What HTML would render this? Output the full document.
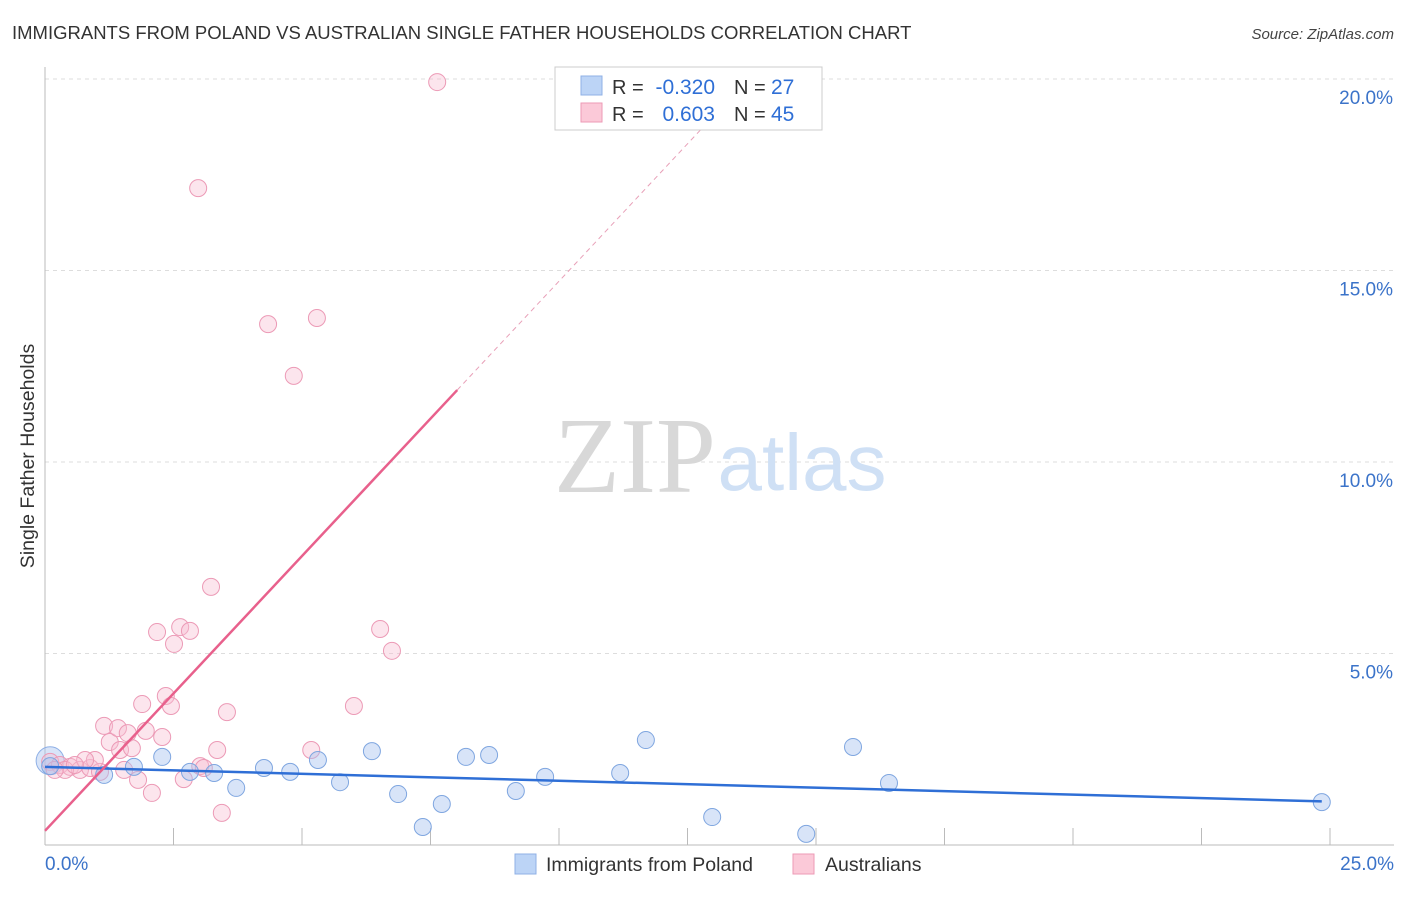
<!DOCTYPE html>
<html><head><meta charset="utf-8"><style>
body{margin:0;background:#fff;font-family:"Liberation Sans",sans-serif}
</style></head><body>
<svg id="c" width="1406" height="892" xmlns="http://www.w3.org/2000/svg" font-family="Liberation Sans, sans-serif"></svg>
<script>
const blueX=[0.1,1.15,1.73,2.28,2.82,3.29,3.72,4.26,4.77,5.31,5.74,6.36,6.87,7.35,7.72,8.19,8.64,9.16,9.73,11.19,11.69,12.98,14.81,15.72,16.42,24.84];
const blueY=[2.06,1.83,2.04,2.30,1.91,1.88,1.49,2.01,1.91,2.22,1.64,2.45,1.33,0.47,1.07,2.30,2.35,1.41,1.78,1.88,2.74,0.73,0.29,2.56,1.62,1.12];
const pinkX=[0.1,0.29,0.49,0.68,0.88,1.07,0.97,1.15,1.26,1.42,1.46,1.54,1.61,1.69,1.81,1.89,1.96,2.08,2.18,2.28,2.35,2.45,2.51,2.63,2.70,2.82,3.02,3.09,3.23,3.35,3.44,3.54,2.98,4.34,4.84,5.29,5.18,6.01,6.52,6.75,7.63,0.78,0.39,0.58,0.19];
const pinkY=[2.17,2.09,2.04,1.96,2.01,1.91,2.22,3.11,2.69,3.05,2.48,1.96,2.92,2.53,1.70,3.68,2.98,1.36,5.56,2.82,3.89,3.63,5.25,5.69,1.72,5.59,2.06,2.01,6.74,2.48,0.84,3.47,17.15,13.60,12.25,13.76,2.48,3.63,5.64,5.07,19.92,2.22,1.96,2.09,1.96];
const yTicks=[5,10,15,20];
const xTickCount=10;
const blueTrend=[2.04,1.14];
const pinkTrend=[0.37,1.435];
const X=v=>45+v*51.4, Y=v=>845-v*38.3;
const s=document.getElementById('c');const NS='http://www.w3.org/2000/svg';
function el(t,a,txt){const e=document.createElementNS(NS,t);for(const k in a)e.setAttribute(k,a[k]);if(txt!=null)e.textContent=txt;s.appendChild(e);return e;}
let e;
e=el('text',{x:12,y:39,'font-size':18.5,fill:'#333'},'IMMIGRANTS FROM POLAND VS AUSTRALIAN SINGLE FATHER HOUSEHOLDS CORRELATION CHART');

e=el('text',{x:1394,y:39,'font-size':15,fill:'#444','text-anchor':'end','font-style':'italic'},'Source: ZipAtlas.com');

yTicks.forEach(t=>{e=el('line',{x1:45,x2:1394,y1:Y(t),y2:Y(t),stroke:'#ddd','stroke-dasharray':'4,4'});

e=el('text',{x:1393,y:Y(t)+25,'font-size':19,fill:'#3b73c9','text-anchor':'end'},t.toFixed(1)+'%');
});
e=el('line',{x1:45,x2:45,y1:67,y2:845,stroke:'#bbb'});
e=el('line',{x1:45,x2:1394,y1:845,y2:845,stroke:'#bbb'});
for(let i=1;i<=xTickCount;i++){e=el('line',{x1:X(i*2.5),x2:X(i*2.5),y1:828,y2:845,stroke:'#bbb'});}
e=el('text',{x:45,y:870,'font-size':19,fill:'#3b73c9'},'0.0%');
e=el('text',{x:1394,y:870,'font-size':19,fill:'#3b73c9','text-anchor':'end'},'25.0%');
e=el('text',{x:34,y:456,'font-size':19.5,fill:'#333','text-anchor':'middle',transform:'rotate(-90 34 456)'},'Single Father Households');

e=el('text',{x:635,y:492,'font-size':108,fill:'#d8d8d8','font-family':'Liberation Serif, serif','text-anchor':'middle'},'ZIP');
e=el('text',{x:802,y:490,'font-size':80,fill:'#cfe0f5','text-anchor':'middle'},'atlas');
e=el('circle',{cx:X(0.1),cy:Y(2.2),r:14,fill:'rgba(168,196,240,0.45)',stroke:'#8fb0e6'});
pinkX.forEach((x,i)=>{e=el('circle',{cx:X(x),cy:Y(pinkY[i]),r:8.5,fill:'rgba(248,190,210,0.4)',stroke:'#ec9ab6','stroke-width':1});
});
blueX.forEach((x,i)=>{e=el('circle',{cx:X(x),cy:Y(blueY[i]),r:8.5,fill:'rgba(168,196,240,0.45)',stroke:'#7fa6e0','stroke-width':1});
});
e=el('line',{x1:X(0),y1:Y(blueTrend[0]),x2:X(24.84),y2:Y(blueTrend[1]),stroke:'#2f6fd6','stroke-width':2.5});
e=el('line',{x1:X(0),y1:Y(pinkTrend[0]),x2:X(8.02),y2:Y(pinkTrend[0]+pinkTrend[1]*8.02),stroke:'#e8608c','stroke-width':2.5});
e=el('line',{x1:X(8.02),y1:Y(pinkTrend[0]+pinkTrend[1]*8.02),x2:X(13.6),y2:Y(pinkTrend[0]+pinkTrend[1]*13.6),stroke:'#e8a0b8','stroke-width':1,'stroke-dasharray':'5,4'});
e=el('rect',{x:555,y:67,width:267,height:63,fill:'#fff',stroke:'#ccc'});
e=el('rect',{x:581,y:76,width:21,height:19,fill:'#bcd4f6',stroke:'#8fb0e6'});
e=el('rect',{x:581,y:103,width:21,height:19,fill:'#fbc9d8',stroke:'#ec9ab6'});
[[94,'-0.320','27'],[121,'0.603','45']].forEach((r,i)=>{
e=el('text',{x:612,y:r[0],'font-size':20,fill:'#333'},'R =');
e=el('text',{x:715,y:r[0],'font-size':21,fill:'#2f6fd6','text-anchor':'end'},r[1]);
e=el('text',{x:734,y:r[0],'font-size':20,fill:'#333'},'N =');
e=el('text',{x:771,y:r[0],'font-size':21,fill:'#2f6fd6'},r[2]);});
e=el('rect',{x:515,y:854,width:21,height:20,fill:'#bcd4f6',stroke:'#8fb0e6'});
e=el('text',{x:546,y:871,'font-size':19.5,fill:'#333'},'Immigrants from Poland');
e=el('rect',{x:793,y:854,width:21,height:20,fill:'#fbc9d8',stroke:'#ec9ab6'});
e=el('text',{x:825,y:871,'font-size':19.5,fill:'#333'},'Australians');
</script>
</body></html>
